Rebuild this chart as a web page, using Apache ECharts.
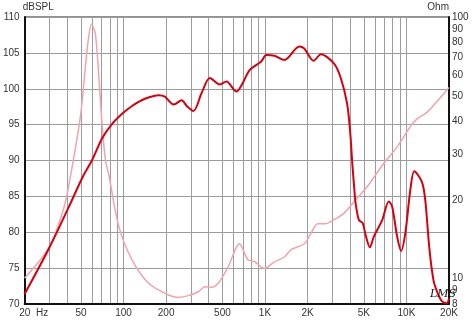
<!DOCTYPE html>
<html>
<head>
<meta charset="utf-8">
<script src="https://cdn.jsdelivr.net/npm/echarts@6/dist/echarts.min.js"></script>
<style>html,body{margin:0;padding:0;background:#fff}#c{width:472px;height:320px}</style>
</head>
<body>
<div id="c"></div>
<script>
// SPL response (Hz, dB)
const splFreq = [20, 29.8, 41.2, 51.1, 60.1, 70.6, 83.1, 97.7, 114.8, 141.7, 177.7, 195.8, 226.6, 257.8, 279.6, 311.6, 356.4, 407.6, 479, 534, 628, 692, 779, 941, 1020, 1167, 1372, 1749, 1896, 2208, 2484, 3080, 3434, 3802, 3992, 4150, 4258, 4376, 4616, 4902, 5146, 5516, 5884, 6742, 7504, 7926, 8596, 9170, 9828, 10658, 11372, 12878, 13584, 14568, 15542, 16498, 17802, 19300, 20000];
const splDb = [71.4, 77.8, 83.6, 87.6, 90.1, 93.1, 95.1, 96.5, 97.6, 98.6, 99.1, 98.9, 97.8, 98.4, 97.6, 96.9, 99.4, 101.5, 100.6, 101.0, 99.6, 100.7, 102.6, 103.8, 104.7, 104.6, 104.0, 105.9, 105.6, 103.9, 104.8, 103.5, 101.5, 98.0, 94.25, 89.4, 86.6, 84.0, 81.7, 81.3, 79.6, 77.9, 79.4, 81.7, 84.3, 83.6, 79.4, 77.4, 79.9, 85.9, 88.5, 87.0, 84.5, 77.5, 73.3, 71.7, 70.4, 70.1, 70.8];
// Impedance (Hz, Ohm)
const impFreq = [20, 29.8, 38.0, 42.3, 49.7, 55.4, 59.4, 63.4, 70.6, 74.5, 78.7, 92.6, 114.8, 150.4, 207.8, 244.4, 287.4, 337.8, 376, 419, 467, 549, 628, 662, 700, 759, 844, 993, 1167, 1372, 1529, 1896, 2114, 2355, 2622, 3080, 3622, 4376, 5290, 6918, 8596, 10658, 11878, 13964, 20000];
const impOhm = [10.06, 13.2, 18.8, 24.9, 42.2, 75.9, 93.8, 85.4, 38.6, 28.4, 24.9, 15.8, 11.8, 9.6, 8.66, 8.48, 8.61, 8.91, 9.31, 9.27, 9.6, 11.1, 13.2, 13.6, 12.9, 11.8, 11.6, 10.95, 11.6, 12.1, 12.9, 13.6, 14.9, 16.2, 16.2, 16.8, 17.8, 20.0, 22.5, 27.6, 31.9, 38.1, 40.8, 43.2, 53.8];
// Axis ticks
const xTickValues = [20, 50, 100, 200, 500, 1000, 2000, 5000, 10000, 20000];
const xTickLabels = ['20  Hz', '50', '100', '200', '500', '1K', '2K', '5K', '10K', '20K'];
const xGridValues = [20,30,40,50,60,70,80,90,100,200,300,400,500,600,700,800,900,1000,2000,3000,4000,5000,6000,7000,8000,9000,10000,20000];
const ohmTicks = [8, 9, 10, 20, 30, 40, 50, 60, 70, 80, 90, 100];

const L = Math.log10;
const splData = splFreq.map((f, i) => [L(f), splDb[i]]);
const impData = impFreq.map((f, i) => [L(f), L(impOhm[i])]);
const labelMap = {};
xTickValues.forEach((v, i) => { labelMap[v] = xTickLabels[i]; });

const font = 'Liberation Sans, Arial, sans-serif';
const chart = echarts.init(document.getElementById('c'), null, {renderer: 'canvas'});
chart.setOption({
  animation: false,
  backgroundColor: '#fff',
  grid: {left: 22, right: 23, top: 17, bottom: 16, show: true, borderColor: '#222', borderWidth: 1},
  title: {text: 'LMS', left: 425, top: 284, textStyle: {fontFamily: 'DejaVu Serif', fontStyle: 'italic', fontWeight: 'normal', fontSize: 11, color: '#111'}},
  xAxis: {
    type: 'value', min: L(20), max: L(20000),
    axisLine: {show: true, lineStyle: {color: '#111', width: 2}},
    axisTick: {show: false, customValues: xGridValues.map(L)},
    splitLine: {show: true, lineStyle: {color: '#9c9c9c', width: 1}},
    axisLabel: {
      customValues: xTickValues.map(L), margin: 4, fontFamily: font, fontSize: 10, color: '#333',
      formatter: v => {
        const f = Math.round(Math.pow(10, v));
        return f === 20 ? '{hz|' + labelMap[f] + '}' : labelMap[f];
      },
      rich: {hz: {fontFamily: font, fontSize: 10, color: '#333', padding: [0, 0, 0, 18]}}
    }
  },
  yAxis: [{
    type: 'value', min: 70, max: 110, interval: 5, position: 'left',
    name: 'dBSPL', nameLocation: 'end', nameGap: 3,
    nameTextStyle: {fontFamily: font, fontSize: 10, color: '#333', align: 'left', verticalAlign: 'bottom', padding: [0, 0, 0, -2]},
    axisLine: {show: true, lineStyle: {color: '#111', width: 2}},
    axisTick: {show: false},
    splitLine: {show: true, lineStyle: {color: '#9c9c9c', width: 1}},
    axisLabel: {margin: 5, fontFamily: font, fontSize: 10, color: '#333'}
  }, {
    type: 'value', min: L(8), max: 2, position: 'right',
    name: 'Ohm', nameLocation: 'end', nameGap: 3,
    nameTextStyle: {fontFamily: font, fontSize: 10, color: '#333', align: 'right', verticalAlign: 'bottom'},
    axisLine: {show: true, lineStyle: {color: '#111', width: 2}},
    axisTick: {show: false},
    splitLine: {show: false},
    axisLabel: {
      customValues: ohmTicks.map(L), margin: 3, fontFamily: font, fontSize: 10, color: '#333',
      formatter: v => String(Math.round(Math.pow(10, v)))
    }
  }],
  series: [{
    type: 'line', yAxisIndex: 1, data: impData, showSymbol: false, smooth: 0.3,
    lineStyle: {color: '#f2a3ab', width: 1.5}, z: 2
  }, {
    type: 'line', yAxisIndex: 0, data: splData, showSymbol: false, smooth: 0.3,
    lineStyle: {color: '#d6000f', width: 2}, z: 3
  }]
});
</script>
</body>
</html>
